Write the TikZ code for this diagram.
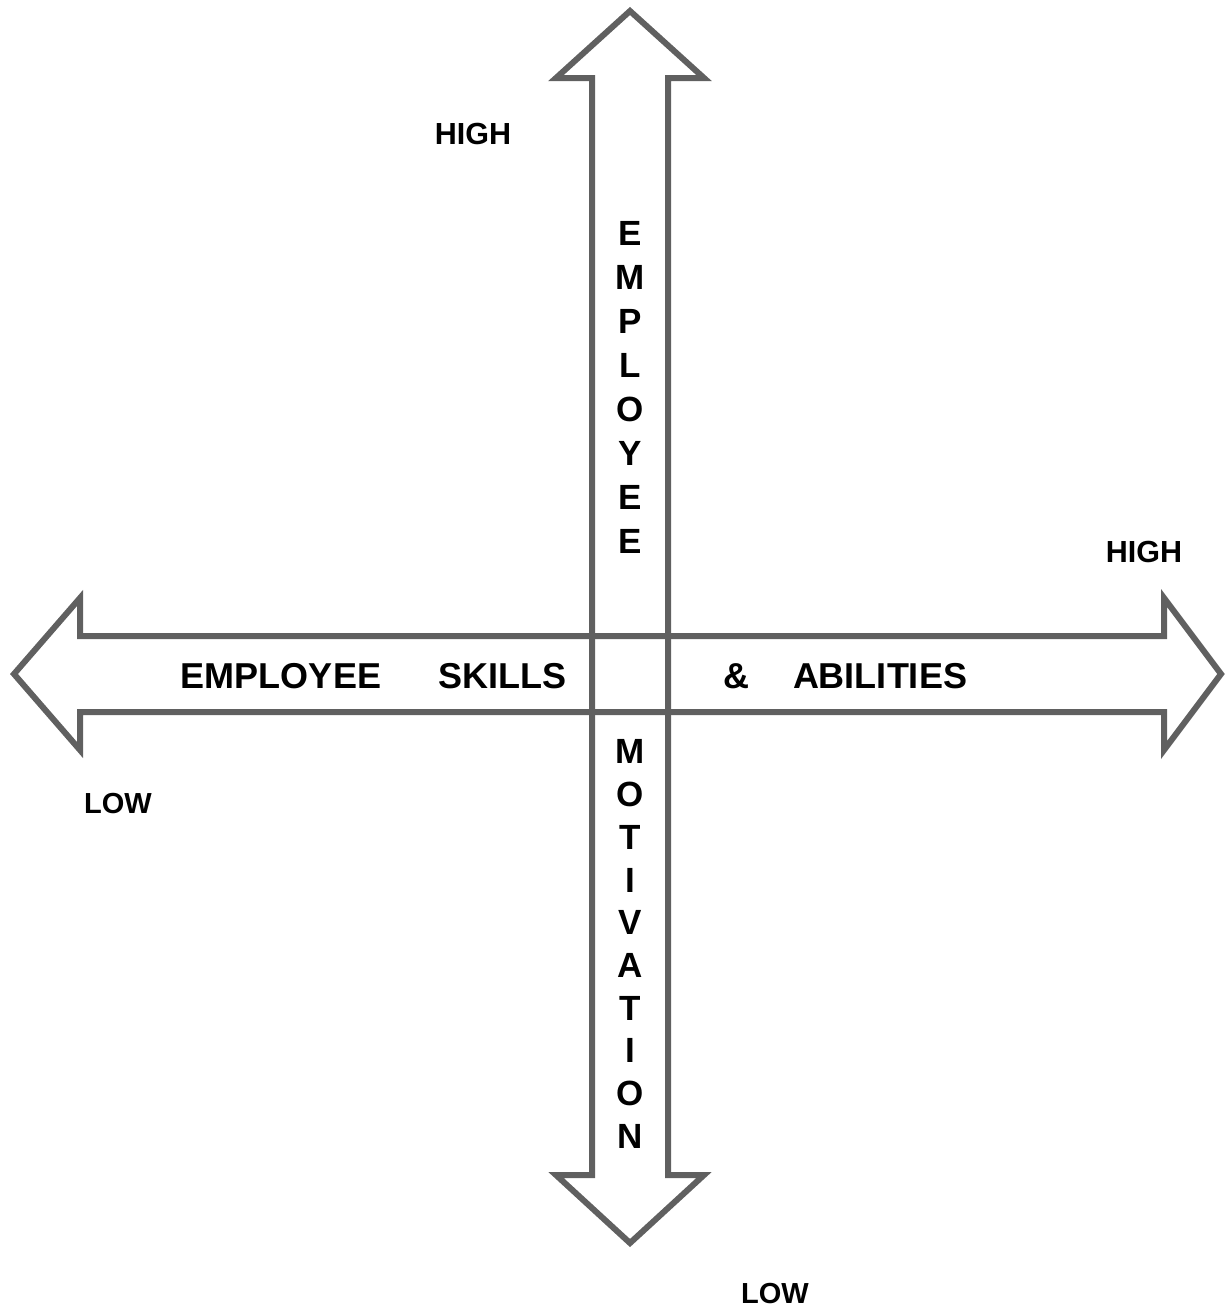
\documentclass[tikz,border=0pt]{standalone}
\usepackage{fontspec}
\setmainfont{Liberation Sans}
\definecolor{arrowgray}{RGB}{96,96,96}
\tikzset{
  axisarrow/.style={draw=arrowgray, line width=6pt, miter limit=10},
  bigword/.style={font=\bfseries\fontsize{36}{40}\selectfont, inner sep=0pt},
  columnword/.style={font=\bfseries\fontsize{35}{44}\selectfont, align=center, inner sep=0pt},
  endlabel/.style={font=\bfseries\fontsize{30.5}{34}\selectfont, inner sep=0pt}
}
\begin{document}
\begin{tikzpicture}[x=1pt, y=-1pt]
  \useasboundingbox (0,0) rectangle (1225,1310);

  % vertical double arrow (motivation axis)
  \draw[axisarrow] (630,11) -- (704,78) -- (668,78) -- (668,1175) -- (704,1175)
        -- (630,1243) -- (556,1175) -- (592,1175) -- (592,78) -- (556,78) -- cycle;

  % horizontal double arrow (skills & abilities axis)
  \draw[axisarrow] (14,674) -- (80,598) -- (80,636) -- (1164,636) -- (1164,598)
        -- (1221,674) -- (1164,750) -- (1164,712) -- (80,712) -- (80,750) -- cycle;

  % words along the horizontal axis
  \node[bigword] (wEmp) at (281,676) {EMPLOYEE};
  \node[bigword] (wSkills) at (502,676) {SKILLS};
  \node[bigword] (wAnd) at (736,676) {\&};
  \node[bigword] (wAbil) at (880,676) {ABILITIES};

  % words along the vertical axis
  \node[columnword] (wEmpV) at (630,387) {E\\M\\P\\L\\O\\Y\\E\\E};
  \node[columnword, font=\bfseries\fontsize{35}{42.7}\selectfont] (wMot) at (630,944) {M\\O\\T\\I\\V\\A\\T\\I\\O\\N};

  % end labels
  \node[endlabel] (hiV) at (473,134) {HIGH};
  \node[endlabel] (hiH) at (1144,552) {HIGH};
  \node[endlabel, font=\bfseries\fontsize{29}{34}\selectfont] (loH) at (118,804) {LOW};
  \node[endlabel, font=\bfseries\fontsize{29}{34}\selectfont] (loV) at (775,1294) {LOW};
\end{tikzpicture}
\end{document}
